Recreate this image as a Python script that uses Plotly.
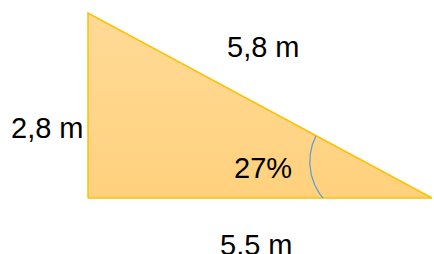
import numpy as np
import plotly.graph_objects as go

# Data (metres)
base_len = 5.5
height_len = 2.8
hyp_label = "5,8 m"
base_label = "5,5 m"
height_label = "2,8 m"
angle_label = "27%"

# pixel <-> data mapping (layout only)
W, H = 434, 254
x0_px, x1_px = 88, 432
y0_px, y1_px = 198, 13
sx = (x1_px - x0_px) / base_len
sy = (y0_px - y1_px) / height_len
xr = [-x0_px / sx, (W - x0_px) / sx]
yr = [(y0_px - H) / sy, y0_px / sy]

def px2d(px, py):
    return (np.asarray(px) - x0_px) / sx, (y0_px - np.asarray(py)) / sy

tri_x = [0, base_len, 0, 0]
tri_y = [0, 0, height_len, 0]

fig = go.Figure()
fig.add_trace(go.Scatter(
    x=tri_x, y=tri_y, mode="lines", fill="toself",
    line=dict(color="#FFC000", width=1.5),
    fillgradient=dict(type="vertical",
                      colorscale=[[0, "#FFD17E"], [1, "#FFDA96"]]),
    hoverinfo="skip", showlegend=False))

# angle arc
cx, cy, r = 366.9, 161.65, 57.1
a1n = np.arctan2(136 - cy, 316 - cx) % (2*np.pi)
a2n = np.arctan2(198 - cy, 323 - cx) % (2*np.pi)
t = np.linspace(a1n, a2n, 60)
ax_, ay_ = px2d(cx + r*np.cos(t), cy + r*np.sin(t))
fig.add_trace(go.Scatter(x=ax_, y=ay_, mode="lines",
                         line=dict(color="#5B9BD5", width=1.2),
                         hoverinfo="skip", showlegend=False))

font = dict(family="Liberation Sans, Arial", size=29, color="#000000")
for (px, py, txt) in [(47, 128, height_label), (263.5, 47, hyp_label),
                      (262.5, 168, angle_label), (256, 245, base_label)]:
    dx, dy = px2d(px, py)
    fig.add_annotation(x=float(dx), y=float(dy), text=txt, showarrow=False,
                       font=font, xanchor="center", yanchor="middle")

fig.update_layout(width=W, height=H, margin=dict(l=0, r=0, t=0, b=0),
                  paper_bgcolor="white", plot_bgcolor="white",
                  xaxis=dict(range=xr, visible=False, fixedrange=True),
                  yaxis=dict(range=yr, visible=False, fixedrange=True))
fig.write_html("out.html", config={"displayModeBar": False},
               post_script="document.body.style.margin='0';document.body.style.overflow='hidden';")
